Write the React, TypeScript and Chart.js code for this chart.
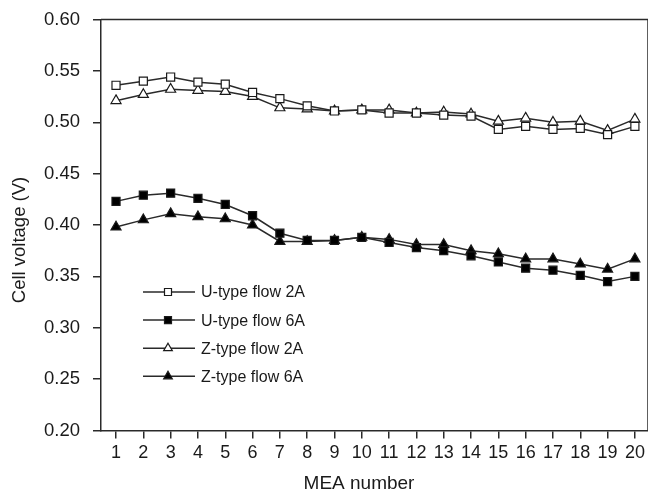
import React, { useEffect, useRef } from "react";
import { Chart, registerables } from "chart.js";

Chart.register(...registerables);

const meaNumbers = [1, 2, 3, 4, 5, 6, 7, 8, 9, 10, 11, 12, 13, 14, 15, 16, 17, 18, 19, 20];
const uType2A = [0.536, 0.540, 0.544, 0.539, 0.537, 0.529, 0.523, 0.516, 0.511, 0.512, 0.509, 0.509, 0.507, 0.506, 0.493, 0.496, 0.493, 0.494, 0.488, 0.496];
const uType6A = [0.423, 0.429, 0.431, 0.426, 0.420, 0.409, 0.392, 0.385, 0.385, 0.388, 0.383, 0.378, 0.375, 0.370, 0.364, 0.358, 0.356, 0.351, 0.345, 0.350];
const zType2A = [0.521, 0.527, 0.532, 0.531, 0.530, 0.525, 0.514, 0.513, 0.511, 0.512, 0.512, 0.509, 0.510, 0.508, 0.501, 0.504, 0.500, 0.501, 0.492, 0.503];
const zType6A = [0.398, 0.405, 0.411, 0.408, 0.406, 0.400, 0.384, 0.384, 0.385, 0.388, 0.386, 0.381, 0.381, 0.375, 0.372, 0.367, 0.367, 0.362, 0.357, 0.367];
const yTickValues = [0.2, 0.25, 0.3, 0.35, 0.4, 0.45, 0.5, 0.55, 0.6];
const seriesLabels = ["U-type flow 2A", "U-type flow 6A", "Z-type flow 2A", "Z-type flow 6A"];
const xTitle = "MEA number";
const yTitle = "Cell voltage (V)";

const FONT = "'Liberation Sans', Arial, sans-serif";
const INK = "#1a1a1a";
const LINE = "#2a2a2a";

const toPoints = (vals: number[]) => vals.map((v, i) => ({ x: meaNumbers[i], y: v }));

const boxAndLegend = {
  id: "boxAndLegend",
  afterDraw(chart: any) {
    const { ctx, chartArea } = chart;
    ctx.save();
    // top and right frame
    ctx.strokeStyle = LINE;
    ctx.lineWidth = 1.5;
    ctx.beginPath();
    ctx.moveTo(chartArea.left, chartArea.top);
    ctx.lineTo(chartArea.right, chartArea.top);
    ctx.lineTo(chartArea.right, chartArea.bottom);
    ctx.stroke();

    // axis titles
    ctx.fillStyle = INK;
    ctx.textAlign = "center";
    ctx.textBaseline = "middle";
    ctx.font = `19px ${FONT}`;
    ctx.fillText(xTitle, 359, 484);
    ctx.save();
    ctx.translate(20, 240);
    ctx.rotate(-Math.PI / 2);
    ctx.font = `18.5px ${FONT}`;
    ctx.fillText(yTitle, 0, 0);
    ctx.restore();

    // legend
    const x0 = 143;
    const x1 = 195;
    const mx = 168;
    const y0 = 292;
    const dy = 28.1;
    chart.data.datasets.forEach((ds: any, i: number) => {
      const y = y0 + i * dy;
      ctx.strokeStyle = LINE;
      ctx.lineWidth = 1.5;
      ctx.beginPath();
      ctx.moveTo(x0, y);
      ctx.lineTo(x1, y);
      ctx.stroke();
      ctx.fillStyle = ds.pointBackgroundColor;
      ctx.strokeStyle = INK;
      ctx.lineWidth = 1.2;
      ctx.beginPath();
      if (ds.pointStyle === "rect") {
        ctx.rect(mx - 3.5, y - 3.5, 7, 7);
      } else {
        const r = 5;
        ctx.moveTo(mx, y - r);
        ctx.lineTo(mx + r * 0.866, y + r * 0.5);
        ctx.lineTo(mx - r * 0.866, y + r * 0.5);
        ctx.closePath();
      }
      ctx.fill();
      ctx.stroke();
      ctx.fillStyle = INK;
      ctx.font = `16px ${FONT}`;
      ctx.textBaseline = "middle";
      ctx.textAlign = "left";
      ctx.fillText(ds.label, 201, y + 1);
    });
    ctx.restore();
  },
};

export default function App() {
  const canvasRef = useRef<HTMLCanvasElement | null>(null);

  useEffect(() => {
    if (!canvasRef.current) return;
    const mk = (label: string, vals: number[], style: string, fill: string, r: number) => ({
      label,
      data: toPoints(vals),
      borderColor: LINE,
      borderWidth: 1.5,
      pointStyle: style,
      pointRadius: r,
      pointBackgroundColor: fill,
      pointBorderColor: INK,
      pointBorderWidth: 1.2,
      fill: false,
      tension: 0,
    });
    const chart = new Chart(canvasRef.current, {
      type: "line",
      data: {
        datasets: [
          mk(seriesLabels[0], uType2A, "rect", "#ffffff", 5.7),
          mk(seriesLabels[1], uType6A, "rect", "#000000", 5.7),
          mk(seriesLabels[2], zType2A, "triangle", "#ffffff", 5.8),
          mk(seriesLabels[3], zType6A, "triangle", "#000000", 5.8),
        ] as any,
      },
      options: {
        animation: false,
        responsive: true,
        maintainAspectRatio: false,
        layout: { padding: { top: 19.5, right: 1, bottom: 0, left: 0 } },
        plugins: { legend: { display: false }, tooltip: { enabled: false } },
        scales: {
          x: {
            type: "linear",
            min: 0.45,
            max: 20.48,
            afterBuildTicks: (scale: any) => {
              scale.ticks = meaNumbers.map((v) => ({ value: v }));
            },
            afterFit: (scale: any) => {
              scale.height = 71.5;
              scale.paddingLeft = 0;
              scale.paddingRight = 0;
            },
            grid: { display: true, drawOnChartArea: false, drawTicks: true, tickLength: 8, color: LINE, lineWidth: 1.5 },
            border: { display: true, color: LINE, width: 1.5 },
            ticks: {
              autoSkip: false,
              maxRotation: 0,
              padding: 4,
              color: INK,
              font: { family: FONT, size: 18 },
              callback: (v: any) => String(v),
            },
            title: { display: false },
          },
          y: {
            type: "linear",
            min: 0.2,
            max: 0.6,
            afterBuildTicks: (scale: any) => {
              scale.ticks = yTickValues.map((v) => ({ value: v }));
            },
            afterFit: (scale: any) => {
              scale.width = 101;
              scale.paddingTop = 0;
              scale.paddingBottom = 0;
            },
            grid: { display: true, drawOnChartArea: false, drawTicks: true, tickLength: 8, color: LINE, lineWidth: 1.5 },
            border: { display: true, color: LINE, width: 1.5 },
            ticks: {
              padding: 13,
              color: INK,
              font: { family: FONT, size: 18.5 },
              callback: (v: any) => Number(v).toFixed(2),
            },
            title: { display: false },
          },
        },
      } as any,
      plugins: [boxAndLegend],
    });
    return () => chart.destroy();
  }, []);

  return (
    <div style={{ position: "fixed", left: 0, top: 0, width: 648, height: 502, overflow: "hidden", background: "#fff" }}>
      <div style={{ position: "absolute", left: 0, top: 0, width: 655, height: 502 }}>
        <canvas ref={canvasRef} />
      </div>
    </div>
  );
}
